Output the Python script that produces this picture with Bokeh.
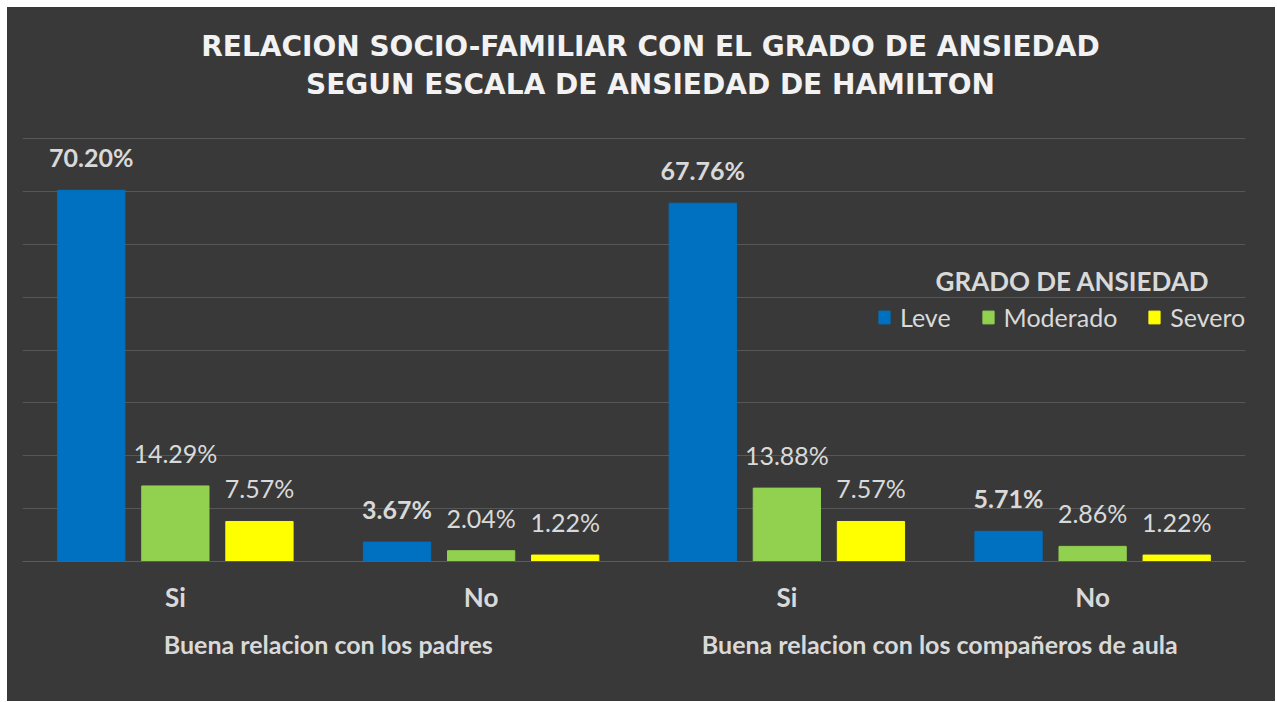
from bokeh.plotting import figure
from bokeh.layouts import column
from bokeh.models import (FactorRange, ColumnDataSource, Legend, LegendItem, Label,
                          FixedTicker)
from bokeh.transform import dodge
from bokeh.core.properties import value
from bokeh.embed import file_html
from bokeh.resources import INLINE

# ---- data ----
groups = ["Buena relacion con los padres", "Buena relacion con los compañeros de aula"]
answers = ["Si", "No"]
series = ["Leve", "Moderado", "Severo"]
leve = [70.20, 3.67, 67.76, 5.71]
moderado = [14.29, 2.04, 13.88, 2.86]
severo = [7.57, 1.22, 7.57, 1.22]
colors = ["#0070C0", "#92D050", "#FFFF00"]
y_ticks = [0, 10, 20, 30, 40, 50, 60, 70, 80]
title_lines = ["RELACION SOCIO-FAMILIAR CON EL GRADO DE ANSIEDAD",
               "SEGUN ESCALA DE ANSIEDAD DE HAMILTON"]
legend_title = "GRADO DE ANSIEDAD"

factors = [(g, a) for g in groups for a in answers]
values = [leve, moderado, severo]
offsets = [-0.275, 0.0, 0.275]

BG = "#393939"
TXT = "#d9d9d9"
FONT = "Lato"
W = 1268

# ---- title strip ----
t = figure(width=W, height=129, x_range=(0, 1), y_range=(0, 1),
           output_backend="svg", toolbar_location=None, min_border=0,
           background_fill_color=BG, border_fill_color=BG)
t.styles = {"background-color": BG}
t.outline_line_color = None
t.axis.visible = False
t.grid.visible = False
for i, line in enumerate(title_lines):
    t.add_layout(Label(x=628, y=90 - 38 * i, x_units="screen", y_units="screen", text=line,
                       text_align="center", text_baseline="middle",
                       text_font="DejaVu Sans", text_font_size="28px",
                       text_font_style="bold", text_color="#f2f2f2"))

# ---- chart ----
p = figure(x_range=FactorRange(*factors, group_padding=0, factor_padding=0, range_padding=0),
           y_range=(0, 80.38), width=W, height=565,
           output_backend="svg", toolbar_location=None,
           min_border_left=15, min_border_right=30, min_border_top=0, min_border_bottom=140,
           background_fill_color=BG, border_fill_color=BG)
p.styles = {"background-color": BG}
p.outline_line_color = None

renderers = []
for name, vals, col, off in zip(series, values, colors, offsets):
    src = ColumnDataSource(dict(x=factors, top=vals,
                                lbl=["%.2f%%" % v for v in vals]))
    r = p.vbar(x=dodge("x", off, range=p.x_range), top="top", width=0.22, source=src,
               fill_color=col, line_color=col)
    renderers.append(r)
    p.text(x=dodge("x", off, range=p.x_range), y="top", text="lbl", source=src,
           text_align="center", text_baseline="bottom", y_offset=-18,
           text_font=value(FONT), text_font_size="25px", text_color=TXT,
           text_font_style="bold" if name == "Leve" else "normal")

p.yaxis.visible = False
p.ygrid.ticker = FixedTicker(ticks=y_ticks)
p.ygrid.grid_line_color = "#575757"
p.xgrid.grid_line_color = None
xa = p.xaxis[0]
xa.axis_line_color = "#5c5c5c"
xa.major_tick_line_color = None
xa.minor_tick_line_color = None
xa.major_label_standoff = 13
xa.major_label_text_font = FONT
xa.major_label_text_font_size = "26px"
xa.major_label_text_font_style = "bold"
xa.major_label_text_color = TXT
xa.group_text_font = FONT
xa.group_text_font_size = "25px"
xa.group_text_font_style = "bold"
xa.group_text_color = TXT
xa.separator_line_alpha = 0

items = [LegendItem(label=s, renderers=[r]) for s, r in zip(series, renderers)]
leg = Legend(items=items, orientation="horizontal", location=(855, 229),
             background_fill_alpha=0, border_line_alpha=0, padding=0, margin=0,
             spacing=30, label_standoff=9, glyph_width=14, glyph_height=16,
             label_height=28, label_text_font=FONT, label_text_font_size="25px",
             label_text_color=TXT)
p.add_layout(leg, "center")

p.add_layout(Label(x=1050, y=281, x_units="screen", y_units="screen", text=legend_title,
                   text_align="center", text_baseline="middle", text_font=FONT,
                   text_font_size="26px", text_font_style="bold", text_color=TXT))

layout = column(t, p, spacing=0)
layout.margin = (7, 0, 0, 7)

open("out.html", "w").write(file_html(layout, INLINE))
